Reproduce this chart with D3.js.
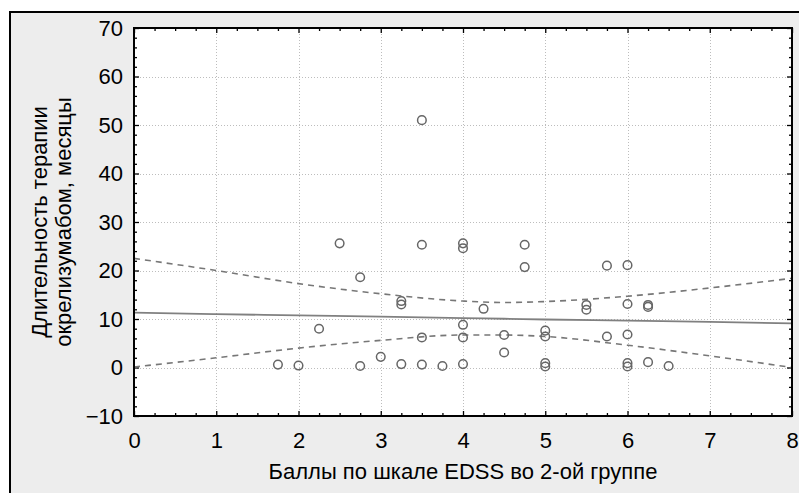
<!DOCTYPE html>
<html>
<head>
<meta charset="utf-8">
<script src="https://cdn.jsdelivr.net/npm/d3@7"></script>
<style>
  html, body { margin: 0; padding: 0; background: #ffffff; }
  svg { display: block; }
  text { font-family: "Liberation Sans", Arial, sans-serif; fill: #000; }
</style>
</head>
<body>
<svg id="chart" width="799" height="493"></svg>
<script>
// EDSS score (x) and therapy duration in months (y) for each patient
const edss = [1.75, 2.0, 2.25, 2.5, 2.75, 2.75, 3.0, 3.25, 3.25, 3.25,
              3.5, 3.5, 3.5, 3.5, 3.75, 4.0, 4.0, 4.0, 4.0, 4.0,
              4.25, 4.5, 4.5, 4.75, 4.75, 5.0, 5.0, 5.0, 5.0, 5.5,
              5.5, 5.75, 5.75, 6.0, 6.0, 6.0, 6.0, 6.0, 6.25, 6.25,
              6.25, 6.5];
const months = [0.6, 0.4, 8.0, 25.6, 18.6, 0.3, 2.2, 13.7, 13.0, 0.7,
                51.0, 25.3, 6.2, 0.6, 0.3, 25.6, 24.6, 8.8, 6.2, 0.7,
                12.1, 6.7, 3.1, 25.3, 20.7, 7.6, 6.4, 0.9, 0.2, 12.9,
                11.9, 21.0, 6.4, 21.1, 13.1, 6.8, 0.9, 0.2, 12.9, 12.5,
                1.1, 0.3];

// Fitted regression line and its 95% confidence band
const fitX  = [0, 1, 2, 3, 4, 4.5, 5, 6, 7, 8];
const fitY  = [11.3, 11.0, 10.75, 10.5, 10.2, 10.05, 9.9, 9.65, 9.4, 9.1];
const upper = [22.5, 20.0, 17.3, 15.2, 13.7, 13.4, 13.6, 14.7, 16.4, 18.4];
const lower = [0.1, 2.0, 4.0, 5.6, 6.7, 6.7, 6.4, 4.6, 2.4, 0.0];

// Axis ticks
const xTicks = [0, 1, 2, 3, 4, 5, 6, 7, 8];
const yTicks = [-10, 0, 10, 20, 30, 40, 50, 60, 70];

const xTitle = "Баллы по шкале EDSS во 2-ой группе";
const yTitle = ["Длительность терапии", "окрелизумабом, месяцы"];

const svg = d3.select("#chart");
const W = 799, H = 493;
const plot = { left: 134, top: 28, right: 792, bottom: 416 };
const FONT = "Liberation Sans, Arial, sans-serif";

// Outer panel
svg.append("rect")
  .attr("x", 10).attr("y", 12)
  .attr("width", W + 10).attr("height", H + 10)
  .attr("fill", "#ededed")
  .attr("stroke", "#000").attr("stroke-width", 2);

const x = d3.scaleLinear().domain([0, 8]).range([plot.left, plot.right]);
const y = d3.scaleLinear().domain([-10, 70]).range([plot.bottom, plot.top]);

// Plot area
svg.append("rect")
  .attr("x", plot.left).attr("y", plot.top)
  .attr("width", plot.right - plot.left).attr("height", plot.bottom - plot.top)
  .attr("fill", "#ffffff");

// Grid lines
const grid = svg.append("g").attr("stroke", "#bdbdbd").attr("stroke-width", 1)
  .attr("stroke-dasharray", "1,2");
grid.selectAll("line.gx").data(xTicks.slice(1, -1)).join("line")
  .attr("x1", d => Math.round(x(d)) + 0.5).attr("x2", d => Math.round(x(d)) + 0.5)
  .attr("y1", plot.top).attr("y2", plot.bottom);
grid.selectAll("line.gy").data(yTicks.slice(1, -1)).join("line")
  .attr("y1", d => Math.round(y(d)) + 0.5).attr("y2", d => Math.round(y(d)) + 0.5)
  .attr("x1", plot.left).attr("x2", plot.right);

// Axes with inward ticks (major + minor) on all four sides
const xMinor = d3.range(0, 8.001, 0.25).filter(v => Math.abs(v - Math.round(v)) > 1e-6);
const yMinor = d3.range(-10, 70.001, 2).filter(v => v % 10 !== 0);

function addAxis(axisFn, scale, ticks, size, transform) {
  const g = svg.append("g").attr("transform", transform)
    .call(axisFn(scale).tickValues(ticks).tickSize(size).tickFormat(""));
  g.select(".domain").remove();
  g.selectAll(".tick line").attr("stroke", "#000").attr("stroke-width", 1.3);
  return g;
}
addAxis(d3.axisTop, x, xTicks, 5, `translate(0,${plot.bottom})`);
addAxis(d3.axisTop, x, xMinor, 3, `translate(0,${plot.bottom})`);
addAxis(d3.axisBottom, x, xTicks, 5, `translate(0,${plot.top})`);
addAxis(d3.axisBottom, x, xMinor, 3, `translate(0,${plot.top})`);
addAxis(d3.axisRight, y, yTicks, 5, `translate(${plot.left},0)`);
addAxis(d3.axisRight, y, yMinor, 3, `translate(${plot.left},0)`);
addAxis(d3.axisLeft, y, yTicks, 5, `translate(${plot.right},0)`);
addAxis(d3.axisLeft, y, yMinor, 3, `translate(${plot.right},0)`);

// Tick labels
const xLab = svg.append("g")
  .attr("transform", `translate(0,${plot.bottom})`)
  .call(d3.axisBottom(x).tickValues(xTicks).tickSize(0).tickPadding(16));
xLab.select(".domain").remove();
xLab.selectAll("text").attr("font-size", 22).style("font-family", FONT).attr("fill", "#000");

const yLab = svg.append("g")
  .attr("transform", `translate(${plot.left},0)`)
  .call(d3.axisLeft(y).tickValues(yTicks).tickSize(0).tickPadding(11));
yLab.select(".domain").remove();
yLab.selectAll("text").attr("font-size", 22).style("font-family", FONT).attr("fill", "#000");

// Confidence band and regression line
const pts = arr => fitX.map((v, i) => [v, arr[i]]);
const line = d3.line().x(d => x(d[0])).y(d => y(d[1])).curve(d3.curveMonotoneX);

svg.append("path").attr("d", line(pts(upper)))
  .attr("fill", "none").attr("stroke", "#777").attr("stroke-width", 1.6)
  .attr("stroke-dasharray", "6,5");
svg.append("path").attr("d", line(pts(lower)))
  .attr("fill", "none").attr("stroke", "#777").attr("stroke-width", 1.6)
  .attr("stroke-dasharray", "6,5");
svg.append("path").attr("d", line(pts(fitY)))
  .attr("fill", "none").attr("stroke", "#808080").attr("stroke-width", 1.8);

// Scatter points
svg.append("g").selectAll("circle").data(edss.map((v, i) => [v, months[i]])).join("circle")
  .attr("cx", d => x(d[0])).attr("cy", d => y(d[1])).attr("r", 4.3)
  .attr("fill", "none").attr("stroke", "#666").attr("stroke-width", 1.5);

// Plot border
svg.append("rect")
  .attr("x", plot.left).attr("y", plot.top)
  .attr("width", plot.right - plot.left).attr("height", plot.bottom - plot.top)
  .attr("fill", "none").attr("stroke", "#000").attr("stroke-width", 2);

// Axis titles
svg.append("text")
  .attr("x", (plot.left + plot.right) / 2).attr("y", 479)
  .attr("text-anchor", "middle").attr("font-size", 22)
  .text(xTitle);

const yt = svg.append("text")
  .attr("transform", `translate(0,${(plot.top + plot.bottom) / 2}) rotate(-90)`)
  .attr("text-anchor", "middle").attr("font-size", 22);
yt.selectAll("tspan").data(yTitle).join("tspan")
  .attr("x", 0).attr("y", (d, i) => 47 + i * 24)
  .text(d => d);
</script>
</body>
</html>
